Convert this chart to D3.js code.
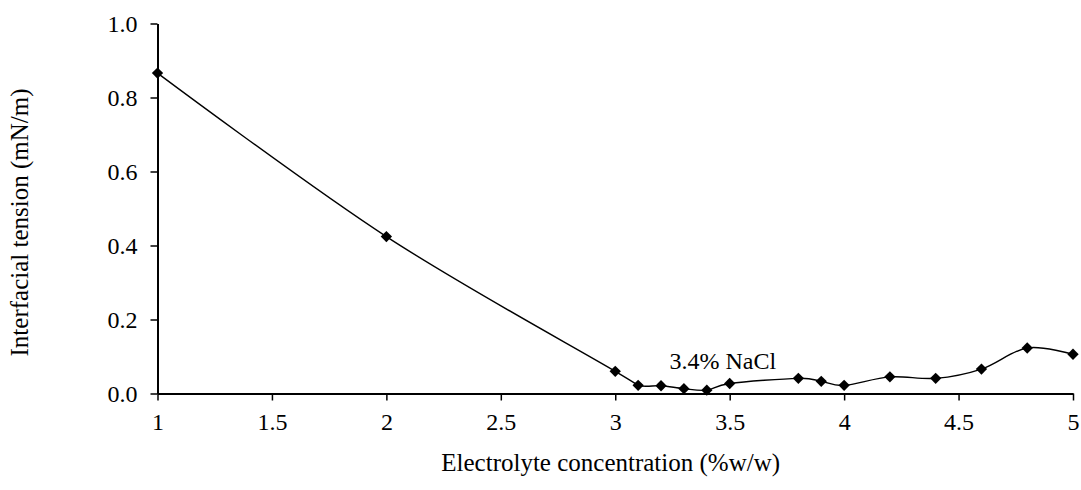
<!DOCTYPE html>
<html>
<head>
<meta charset="utf-8">
<script src="https://cdn.jsdelivr.net/npm/d3@7"></script>
<style>
body { margin: 0; background: #fff; }
svg { display: block; }
text { font-family: "Liberation Serif", "Times New Roman", serif; fill: #000; }
</style>
</head>
<body>
<svg></svg>
<script>
var screen = {width: 1081, height: 490};
var margins = {top: 23.5, right: 8, bottom: 96.5, left: 157.5};

// electrolyte concentration (%w/w)
var concentration = [1, 2, 3, 3.1, 3.2, 3.3, 3.4, 3.5, 3.8, 3.9, 4.0, 4.2, 4.4, 4.6, 4.8, 5.0];
// interfacial tension (mN/m)
var tension = [0.866, 0.424, 0.060, 0.022, 0.021, 0.013, 0.009, 0.027, 0.041, 0.033, 0.022, 0.045, 0.041, 0.066, 0.123, 0.106];

var xTicks = [1, 1.5, 2, 2.5, 3, 3.5, 4, 4.5, 5];
var yTicks = [0, 0.2, 0.4, 0.6, 0.8, 1.0];

var annotation = {x: 3.47, y: 0.06, text: "3.4% NaCl"};

var setup = function()
{
    var svg = d3.select("svg")
    .attr("width", screen.width)
    .attr("height", screen.height);

    var width = screen.width - margins.left - margins.right;
    var height = screen.height - margins.top - margins.bottom;

    var xScale = d3.scaleLinear().domain([1, 5]).range([0, 915.5]);
    var yScale = d3.scaleLinear().domain([0, 1]).range([height, 0]);

    var graph = svg.append("g")
    .attr("id", "graph")
    .attr("transform", "translate(" + margins.left + "," + margins.top + ")");

    var xAxis = d3.axisBottom(xScale)
    .tickValues(xTicks)
    .tickSizeInner(7)
    .tickSizeOuter(0)
    .tickPadding(12)
    .tickFormat(function(d){ return d3.format("")(d); });

    var yAxis = d3.axisLeft(yScale)
    .tickValues(yTicks)
    .tickSizeInner(7)
    .tickSizeOuter(0)
    .tickPadding(13)
    .tickFormat(d3.format(".1f"));

    var gx = graph.append("g")
    .attr("transform", "translate(0," + height + ")")
    .call(xAxis);

    var gy = graph.append("g")
    .call(yAxis);

    [gx, gy].forEach(function(g){
        g.select(".domain").attr("stroke", "#000").attr("stroke-width", 2);
        g.selectAll(".tick line").attr("stroke", "#000").attr("stroke-width", 1.5);
        g.selectAll(".tick text").style("font-family", "Liberation Serif").style("font-size", "24px").attr("fill", "#000");
    });
    gy.selectAll(".tick text").attr("dy", "0.35em");

    var points = concentration.map(function(c, i){ return [c, tension[i]]; });

    var line = d3.line()
    .x(function(d){ return xScale(d[0]); })
    .y(function(d){ return yScale(d[1]); })
    .curve(d3.curveCardinal.tension(0));

    graph.append("path")
    .datum(points)
    .attr("fill", "none")
    .attr("stroke", "#000")
    .attr("stroke-width", 1.4)
    .attr("d", line);

    graph.selectAll(".marker")
    .data(points)
    .enter()
    .append("path")
    .attr("class", "marker")
    .attr("d", d3.symbol(d3.symbolSquare, 64))
    .attr("fill", "#000")
    .attr("transform", function(d){
        return "translate(" + xScale(d[0]) + "," + yScale(d[1]) + ") rotate(45)";
    });

    graph.append("text")
    .attr("x", xScale(annotation.x))
    .attr("y", yScale(annotation.y) - 2)
    .attr("text-anchor", "middle")
    .style("font-size", "24px")
    .text(annotation.text);

    svg.append("text")
    .attr("x", margins.left + xScale(2.98))
    .attr("y", 471)
    .attr("text-anchor", "middle")
    .style("font-size", "25px")
    .text("Electrolyte concentration (%w/w)");

    svg.append("text")
    .attr("transform", "translate(28," + (margins.top + height / 2 + 14) + ") rotate(-90)")
    .attr("text-anchor", "middle")
    .style("font-size", "25px")
    .text("Interfacial tension (mN/m)");
}

setup();
</script>
</body>
</html>
